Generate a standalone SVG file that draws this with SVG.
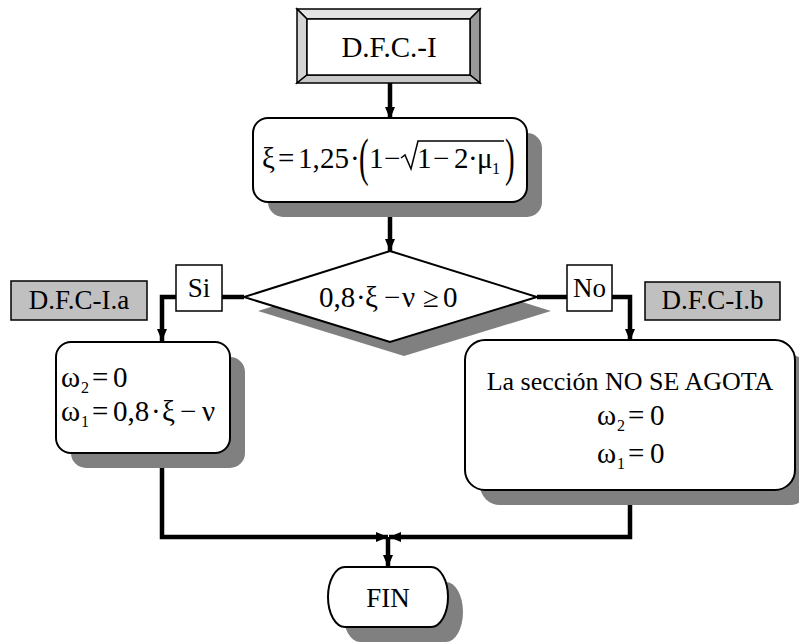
<svg xmlns="http://www.w3.org/2000/svg" width="799" height="642" viewBox="0 0 799 642">
  <style>
    text { font-family: "Liberation Serif", "Times New Roman", serif; fill: #000; }
    .t { font-size: 27px; }
    .m { font-size: 29px; }
    .sub { font-size: 16px; }
    .box { fill: #fff; stroke: #000; stroke-width: 2; }
    .shadow { fill: #808080; stroke: none; }
    .tag { fill: #c0c0c0; stroke: #000; stroke-width: 1.5; }
    .lbl { fill: #fff; stroke: #000; stroke-width: 1.5; }
    .wire { fill: none; stroke: #000; stroke-width: 4.5; stroke-linejoin: miter; }
    .rad { fill: none; stroke: #000; stroke-width: 1.5; stroke-linejoin: miter; }
  </style>
  <defs>
    <marker id="arrow" viewBox="0 0 12 10" refX="12" refY="5" markerWidth="12" markerHeight="10" markerUnits="userSpaceOnUse" orient="auto">
      <path d="M0,0 L12,5 L0,10 Z" fill="#000"/>
    </marker>
  </defs>

  <rect width="799" height="642" fill="#fff"/>

  <!-- connectors -->
  <g id="connectors">
    <line class="wire" x1="390" y1="83" x2="390" y2="119" marker-end="url(#arrow)"/>
    <line class="wire" x1="390" y1="202" x2="390" y2="251" marker-end="url(#arrow)"/>
    <line class="wire" x1="244" y1="297" x2="222" y2="297"/>
    <polyline class="wire" points="176,297 162,297 162,341" marker-end="url(#arrow)"/>
    <line class="wire" x1="537" y1="297" x2="567" y2="297"/>
    <polyline class="wire" points="612,297 630,297 630,341" marker-end="url(#arrow)"/>
    <polyline class="wire" points="162,453 162,537 388,537" marker-end="url(#arrow)"/>
    <polyline class="wire" points="630,490 630,537 389,537" marker-end="url(#arrow)"/>
    <line class="wire" x1="388" y1="537" x2="388" y2="567" marker-end="url(#arrow)"/>
  </g>

  <!-- start block with bevelled frame -->
  <g id="start">
    <polygon points="297,9 480,9 470,19 307,19" fill="#e4e4e4" stroke="#000" stroke-width="1.5"/>
    <polygon points="297,9 307,19 307,75 297,83" fill="#d4d4d4" stroke="#000" stroke-width="1.5"/>
    <polygon points="480,9 480,83 470,75 470,19" fill="#999" stroke="#000" stroke-width="1.5"/>
    <polygon points="297,83 307,75 470,75 480,83" fill="#c8c8c8" stroke="#000" stroke-width="1.5"/>
    <rect x="307" y="19" width="163" height="56" fill="#fff" stroke="#000" stroke-width="1.5"/>
    <text x="389" y="57" text-anchor="middle" style="font-size:29px">D.F.C.-I</text>
  </g>

  <!-- xi computation -->
  <g id="xi">
    <rect class="shadow" x="268" y="133" width="274" height="84" rx="15"/>
    <rect class="box" x="253" y="118" width="274" height="84" rx="15"/>
    <text class="m" y="168">
      <tspan x="262">ξ</tspan><tspan x="278">=</tspan><tspan x="298">1,</tspan><tspan x="320">25</tspan><tspan x="350">·</tspan>
      <tspan x="369">1</tspan><tspan x="384">−</tspan>
      <tspan x="417">1</tspan><tspan x="433">−</tspan><tspan x="454">2</tspan><tspan x="468">·</tspan><tspan x="477">μ</tspan>
    </text>
    <text class="sub" x="492" y="174">1</text>
    <g transform="translate(359,161.5) scale(1,1.8)"><text class="m" x="0" y="7.4">(</text></g>
    <g transform="translate(505,161.5) scale(1,1.8)"><text class="m" x="0" y="7.4">)</text></g>
    <polyline class="rad" points="401,158 405,155 411,169 418,141 504,141"/>
  </g>

  <!-- decision -->
  <g id="decision">
    <polygon class="shadow" points="404,265 551,311 404,356 258,311"/>
    <polygon class="box" points="390,251 537,297 390,342 244,297"/>
    <text class="m" y="307">
      <tspan x="319">0,8</tspan><tspan x="356">·</tspan><tspan x="365">ξ</tspan><tspan x="384">−</tspan><tspan x="402">ν</tspan><tspan x="423">≥</tspan><tspan x="443">0</tspan>
    </text>
  </g>

  <!-- branch labels -->
  <g id="label-si">
    <rect class="lbl" x="176" y="265" width="46" height="46"/>
    <text class="t" x="199" y="297" text-anchor="middle">Si</text>
  </g>
  <g id="label-no">
    <rect class="lbl" x="567" y="265" width="45" height="46"/>
    <text class="t" x="589.5" y="297" text-anchor="middle">No</text>
  </g>

  <!-- section tags -->
  <g id="tag-a">
    <rect class="tag" x="11" y="281" width="136" height="39"/>
    <text class="t" x="79" y="309" text-anchor="middle">D.F.C-I.a</text>
  </g>
  <g id="tag-b">
    <rect class="tag" x="645" y="282" width="135" height="38"/>
    <text class="t" x="712.5" y="309" text-anchor="middle">D.F.C-I.b</text>
  </g>

  <!-- yes branch -->
  <g id="branch-yes">
    <rect class="shadow" x="71" y="357" width="174" height="111" rx="15"/>
    <rect class="box" x="56" y="342" width="174" height="111" rx="15"/>
    <text class="m" y="387"><tspan x="61">ω</tspan><tspan x="92">=</tspan><tspan x="113">0</tspan></text>
    <text class="sub" x="81" y="393">2</text>
    <text class="m" y="421"><tspan x="61">ω</tspan><tspan x="92">=</tspan><tspan x="113">0,8</tspan><tspan x="151">·</tspan><tspan x="162">ξ</tspan><tspan x="180">−</tspan><tspan x="202">ν</tspan></text>
    <text class="sub" x="81" y="427">1</text>
  </g>

  <!-- no branch -->
  <g id="branch-no">
    <rect class="shadow" x="480" y="355" width="330" height="150" rx="20"/>
    <rect class="box" x="465" y="340" width="330" height="150" rx="20"/>
    <text x="630" y="390" text-anchor="middle" style="font-size:26px">La sección NO SE AGOTA</text>
    <text class="m" y="425"><tspan x="597">ω</tspan><tspan x="628">=</tspan><tspan x="650">0</tspan></text>
    <text class="sub" x="617" y="431">2</text>
    <text class="m" y="463"><tspan x="597">ω</tspan><tspan x="628">=</tspan><tspan x="650">0</tspan></text>
    <text class="sub" x="617" y="469">1</text>
  </g>

  <!-- end terminal -->
  <g id="end">
    <path class="shadow" d="M360,582 H446 A17,30 0 0 1 446,642 H360 A17,30 0 0 1 360,582 Z"/>
    <path class="box" d="M345,567 H431 A17,30 0 0 1 431,627 H345 A17,30 0 0 1 345,567 Z"/>
    <text class="t" x="388" y="607" text-anchor="middle">FIN</text>
  </g>
</svg>
